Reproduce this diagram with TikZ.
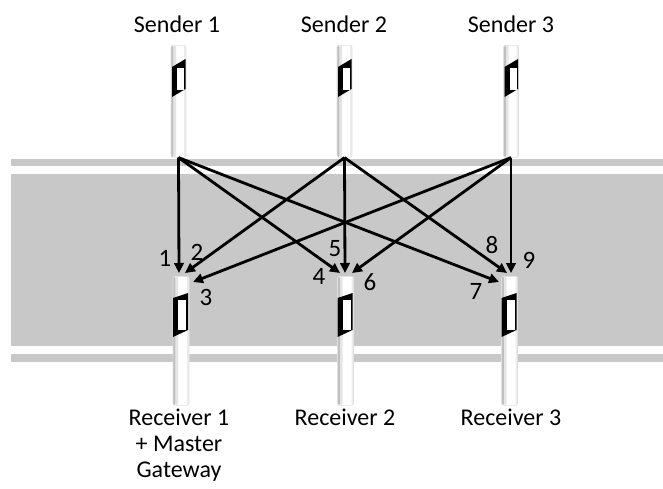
\documentclass[tikz,border=0pt]{standalone}
\usepackage{fontspec}
\setmainfont{Carlito}
\usetikzlibrary{arrows.meta}

\definecolor{roadgray}{RGB}{200,200,200}

% reflector on the upper posts (black frame on the right)
\newcommand{\sendrefl}[1]{%
  \begin{scope}[shift={(#1.north)}]
    \fill[black] (-6.5,22) -- (7,14) -- (7,44) -- (-6.5,52) -- cycle;
    \fill[white] (-1.2,23) rectangle (5.5,45);
  \end{scope}}
% reflector on the lower posts (black frame on the left)
\newcommand{\recvrefl}[1]{%
  \begin{scope}[shift={(#1.north)}]
    \fill[black] (-8,22) -- (7,17) -- (7,54) -- (-8,61) -- cycle;
    \fill[white] (-3,24) rectangle (5,54);
  \end{scope}}

\begin{document}
\begin{tikzpicture}[x=1pt, y=-1pt,
    post/.style={rectangle, anchor=north, inner sep=0pt, rounded corners=2pt,
      fill=white, draw=black!12, line width=0.6pt, path picture={
        \fill[black!25] (path picture bounding box.north west) rectangle
          ([xshift=2.5pt]path picture bounding box.south west);
        \fill[black!10] ([xshift=2.5pt]path picture bounding box.north west) rectangle
          ([xshift=5pt]path picture bounding box.south west);
        \fill[black!7] ([xshift=-2pt]path picture bounding box.north east) rectangle
          (path picture bounding box.south east);}},
    arrow/.style={-{Triangle[length=10pt, width=9.5pt]}, line width=2.8pt, draw=black},
    lbl/.style={font=\fontsize{24}{26}\selectfont, inner sep=0pt},
    num/.style={font=\fontsize{25}{28}\selectfont, inner sep=0pt}]
  \useasboundingbox (0,0) rectangle (663,488);

  % road bands
  \fill[roadgray] (11,159) rectangle (663,166);
  \fill[roadgray] (11,174) rectangle (663,346);
  \fill[roadgray] (11,354) rectangle (663,362);

  % posts
  \node[post, minimum width=15pt, minimum height=112pt] (send1) at (178.5,45) {};
  \node[post, minimum width=15pt, minimum height=112pt] (send2) at (344.5,45) {};
  \node[post, minimum width=15pt, minimum height=112pt] (send3) at (511,45) {};
  \node[post, minimum width=16pt, minimum height=129pt] (recv1) at (181,276) {};
  \node[post, minimum width=16pt, minimum height=129pt] (recv2) at (345.5,276) {};
  \node[post, minimum width=16pt, minimum height=129pt] (recv3) at (509.5,276) {};
  \sendrefl{send1}
  \sendrefl{send2}
  \sendrefl{send3}
  \recvrefl{recv1}
  \recvrefl{recv2}
  \recvrefl{recv3}

  % arrow tips above the receivers
  \coordinate (t1) at (179,273);
  \coordinate (t2) at (185,273);
  \coordinate (t3) at (193,282);
  \coordinate (t4) at (340,273);
  \coordinate (t5) at (345,273);
  \coordinate (t6) at (352,273);
  \coordinate (t7) at (499,282);
  \coordinate (t8) at (507,273);
  \coordinate (t9) at (511,273);

  \draw[arrow] (send1.south) -- (t1);
  \draw[arrow] (send2.south) -- (t2);
  \draw[arrow] (send3.south) -- (t3);
  \draw[arrow] (send1.south) -- (t4);
  \draw[arrow] (send2.south) -- (t5);
  \draw[arrow] (send3.south) -- (t6);
  \draw[arrow] (send1.south) -- (t7);
  \draw[arrow] (send2.south) -- (t8);
  \draw[arrow] (send3.south) -- (t9);

  % link numbers
  \node[num] (n1) at (165,258) {1};
  \node[num] (n2) at (197,252) {2};
  \node[num] (n3) at (206,297) {3};
  \node[num] (n4) at (319,276) {4};
  \node[num] (n5) at (335,249) {5};
  \node[num] (n6) at (370,282) {6};
  \node[num] (n7) at (476,291) {7};
  \node[num] (n8) at (492,245) {8};
  \node[num] (n9) at (529,260) {9};

  % captions
  \node[lbl, anchor=base] (sendlbl1) at (177,32) {Sender 1};
  \node[lbl, anchor=base] (sendlbl2) at (344,32) {Sender 2};
  \node[lbl, anchor=base] (sendlbl3) at (511,32) {Sender 3};
  \node[lbl, anchor=north, align=center] (recvlbl1) at (179,409) {Receiver 1\\+ Master\\Gateway};
  \node[lbl, anchor=north] (recvlbl2) at (345,409) {Receiver 2};
  \node[lbl, anchor=north] (recvlbl3) at (511,409) {Receiver 3};
\end{tikzpicture}
\end{document}
